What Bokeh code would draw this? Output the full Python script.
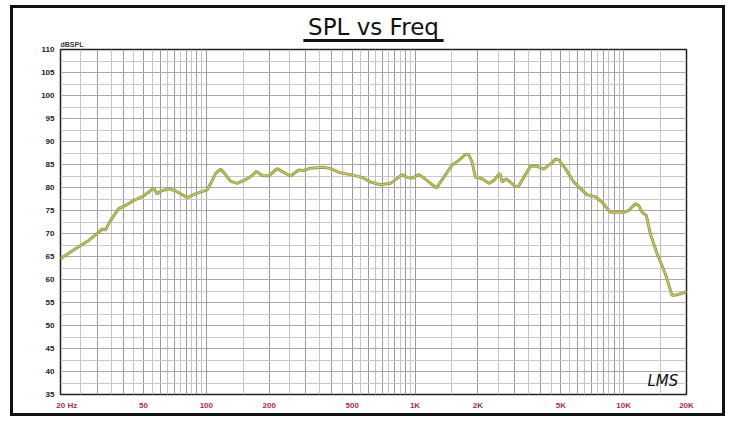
from bokeh.plotting import figure
from bokeh.models import FixedTicker, Label, Range1d, Title
from bokeh.embed import file_html
from bokeh.resources import INLINE

# ---- data ----
freq_hz = [20, 23.6, 27.3, 30.5, 31.7, 32.9, 34.7, 38.0, 41.0, 44.9, 49.3, 54.0, 56.0, 58.1,
           60.3, 66.1, 71.1, 80.9, 88.7, 100.9, 104.7, 110.6, 116.9, 121.2, 130.5, 140.5,
           154.0, 165.8, 173.8, 185.2, 199.1, 218.4, 235.0, 253.0, 277.4, 293.0, 315.6,
           365.2, 393.4, 439.3, 490.6, 558.0, 611.5, 683.0, 762.6, 867.8, 916.9, 968.8,
           1042, 1101, 1267, 1373, 1507, 1620, 1744, 1809, 1878, 1948, 2098, 2256, 2384,
           2547, 2614, 2742, 3028, 3140, 3319, 3573, 3848, 4139, 4539, 4707, 4882, 5258,
           5761, 6681, 7320, 7880, 8638, 10006, 10568, 11378, 11804, 12254, 12848, 13428,
           14460, 15846, 17062, 18030, 19758, 20000]
spl_db = [64.5, 66.7, 68.5, 70.3, 71.0, 70.8, 72.8, 75.4, 76.1, 77.2, 78.0, 79.3, 79.9, 78.6,
          79.2, 79.7, 79.3, 77.8, 78.6, 79.5, 80.8, 83.0, 84.0, 83.3, 81.4, 80.9,
          81.7, 82.6, 83.5, 82.6, 82.5, 84.1, 83.3, 82.5, 83.8, 83.7, 84.2,
          84.4, 84.1, 83.2, 82.8, 82.2, 81.2, 80.6, 80.9, 82.8, 82.2, 82.0,
          82.8, 82.1, 79.9, 82.2, 84.9, 85.9, 87.2, 87.1, 85.5, 82.2, 81.9, 80.9, 81.5,
          83.1, 81.2, 81.9, 80.2, 80.3, 82.2, 84.6, 84.6, 84.0, 85.4, 86.2, 86.0, 84.1,
          81.2, 78.4, 78.0, 76.8, 74.6, 74.6, 75.0, 76.5, 76.1, 74.6, 73.9, 69.9,
          65.6, 61.2, 56.5, 56.7, 57.2, 57.4]

y_ticks = [35, 40, 45, 50, 55, 60, 65, 70, 75, 80, 85, 90, 95, 100, 105, 110]
y_minor_grid = [37.5, 42.5, 47.5, 52.5, 57.5, 62.5, 67.5, 72.5, 77.5, 82.5, 87.5, 92.5,
                97.5, 102.5, 107.5]
# the "20 Hz" label sits just right of the 20 Hz line, as in the reference
x_ticks = [21.7, 50, 100, 200, 500, 1000, 2000, 5000, 10000, 20000]
x_tick_labels = ["20  Hz", "50", "100", "200", "500", "1K", "2K", "5K", "10K", "20K"]
x_grid_major = [20, 30, 40, 50, 60, 70, 80, 90, 100, 200, 300, 400, 500, 600, 700, 800, 900,
                1000, 2000, 3000, 4000, 5000, 6000, 7000, 8000, 9000, 10000, 20000]
x_grid_minor = [25, 35, 45, 55, 65, 75, 85, 95, 150, 250, 350, 450, 550, 650, 750, 850, 950,
                1500, 2500, 3500, 4500, 5500, 6500, 7500, 8500, 9500, 15000]

p = figure(width=715, height=411, x_axis_type="log",
           x_range=Range1d(20, 20000), y_range=Range1d(35, 110),
           output_backend="svg", toolbar_location=None,
           min_border_left=47, min_border_right=42, min_border_top=41, min_border_bottom=25)
p.styles = {"border": "3px solid #111", "margin-left": "10px", "margin-top": "5px"}
p.background_fill_color = "white"
p.border_fill_color = "white"
p.outline_line_color = "#222"
p.outline_line_width = 1.5

# stacked above the frame: unit label, title underline, title
p.add_layout(Title(text="dBSPL", align="left", text_font="Liberation Sans",
                   text_font_style="bold", text_font_size="7px", text_color="#333",
                   standoff=3), "above")
p.add_layout(Title(text=" ", align="center", text_font_size="1px", padding=(70, 1),
                   background_fill_color="#111", background_fill_alpha=1, standoff=-9),
             "above")
p.add_layout(Title(text="SPL vs Freq", align="center", text_font="DejaVu Sans",
                   text_font_size="23px", text_font_style="normal", text_color="#111",
                   standoff=-4), "above")

# grids
p.xgrid.ticker = FixedTicker(ticks=x_grid_major, minor_ticks=x_grid_minor)
p.xgrid.grid_line_color = "#9a9a9a"
p.xgrid.minor_grid_line_color = "#c4c4c4"
p.xgrid.grid_line_width = 1
p.ygrid.ticker = FixedTicker(ticks=y_ticks, minor_ticks=y_minor_grid)
p.ygrid.grid_line_color = "#a8a8a8"
p.ygrid.minor_grid_line_color = "#c8c8c8"

# axes
p.xaxis.ticker = FixedTicker(ticks=x_ticks)
p.xaxis.major_label_overrides = {t: s for t, s in zip(x_ticks, x_tick_labels)}
p.yaxis.ticker = FixedTicker(ticks=y_ticks)
for ax in (p.xaxis[0], p.yaxis[0]):
    ax.axis_line_color = None
    ax.major_tick_line_color = None
    ax.minor_tick_line_color = None
    ax.major_tick_out = 0
    ax.major_tick_in = 0
    ax.minor_tick_out = 0
    ax.minor_tick_in = 0
    ax.major_label_text_font = "Liberation Sans"
    ax.major_label_text_font_style = "bold"
    ax.major_label_text_font_size = "8px"
p.xaxis.major_label_text_color = "#a8285a"
p.xaxis.major_label_standoff = 6
p.yaxis.major_label_text_color = "#222"
p.yaxis.major_label_standoff = 6

# curve
p.line(freq_hz, spl_db, line_color="#989d44", line_width=3)
p.line(freq_hz, spl_db, line_color="#d0d37e", line_width=1)

p.add_layout(Label(x=13000, y=36, text="LMS", text_font="DejaVu Sans",
                   text_font_style="italic", text_font_size="15px", text_color="#111"))

open("out.html", "w").write(file_html(p, INLINE))
